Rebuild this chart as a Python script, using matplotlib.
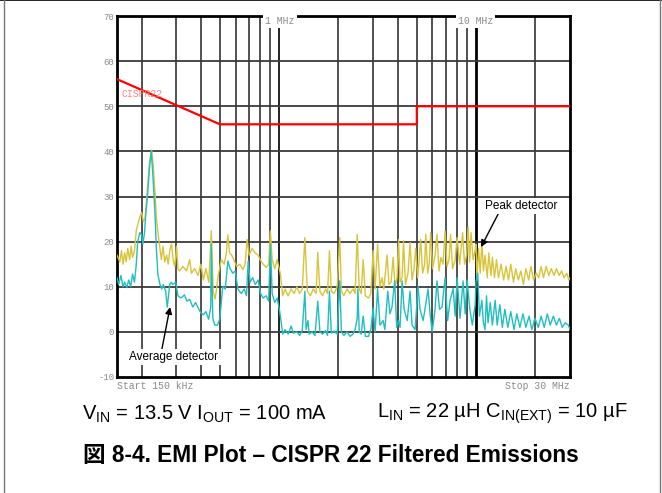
import matplotlib
matplotlib.use('Agg')
import matplotlib.pyplot as plt
from matplotlib.lines import Line2D
from matplotlib.transforms import blended_transform_factory

plt.rcParams['mathtext.fontset'] = 'custom'
plt.rcParams['mathtext.rm'] = 'Liberation Sans'

# CISPR 22 class B average limit
limit_freq = [0.15, 0.5, 5.0, 5.0, 30.0]
limit_db = [56, 46, 46, 50, 50]

# peak detector trace (MHz, dBuV)
peak_freq = [0.150, 0.155, 0.158, 0.161, 0.164, 0.167, 0.170, 0.174, 0.177, 0.180,
             0.184, 0.188, 0.192, 0.196, 0.200, 0.204, 0.208, 0.212, 0.216, 0.220,
             0.225, 0.229, 0.234, 0.238, 0.243, 0.248, 0.252, 0.257, 0.262, 0.268,
             0.273, 0.278, 0.284, 0.289, 0.295, 0.301, 0.306, 0.312, 0.324, 0.338,
             0.351, 0.358, 0.372, 0.387, 0.400, 0.412, 0.424, 0.439, 0.452, 0.462,
             0.473, 0.490, 0.508, 0.526, 0.539, 0.548, 0.560, 0.574, 0.587, 0.609,
             0.631, 0.654, 0.671, 0.687, 0.704, 0.729, 0.755, 0.782, 0.800, 0.829,
             0.859, 0.885, 0.902, 0.921, 0.949, 0.977, 1.012, 1.024, 1.042,
             1.07, 1.11, 1.15, 1.19, 1.23, 1.27, 1.31, 1.35, 1.39, 1.44, 1.49, 1.54,
             1.57, 1.61, 1.66, 1.72, 1.76, 1.80, 1.84, 1.90, 1.97, 2.03, 2.07, 2.13,
             2.21, 2.29, 2.37, 2.43, 2.49, 2.55, 2.61, 2.67, 2.74, 2.84, 2.92, 3.00,
             3.07, 3.16, 3.25, 3.33, 3.40, 3.53, 3.61, 3.70, 3.79, 3.88, 3.97, 4.04,
             4.11, 4.21, 4.28, 4.38, 4.51, 4.62, 4.73, 4.84, 4.93, 5.05, 5.14, 5.23,
             5.35, 5.48, 5.55, 5.68, 5.78, 5.88, 6.01, 6.19, 6.33, 6.48, 6.63, 6.79,
             6.96, 7.12, 7.29, 7.42, 7.60, 7.83, 8.01, 8.25, 8.54, 8.74, 8.95, 9.11,
             9.27, 9.43, 9.66, 9.89, 10.0, 10.1, 10.3, 10.5, 10.7, 10.9, 11.1, 11.4,
             11.6, 11.9, 12.1, 12.4, 12.7, 13.0, 13.4, 13.8, 14.2, 14.6, 15.0, 15.5,
             15.9, 16.4, 16.9, 17.4, 17.9, 18.5, 19.0, 19.6, 20.2, 20.8, 21.4, 22.0,
             22.7, 23.4, 24.1, 24.9, 25.6, 26.4, 27.2, 28.0, 28.9, 29.6, 30.0]
peak_db = [17, 15.5, 18, 15, 17.5, 15.5, 18.5, 16, 19, 16.5,
           18, 22.5, 24, 25.5, 26.5, 24.5, 25, 29, 34, 38,
           40.3, 37, 31, 25, 21.5, 18.5, 16, 19, 15.5, 17,
           15, 18, 19.5, 16, 14.5, 19, 14, 13.5, 14.5, 13.5,
           16, 13, 14, 12.5, 15, 11.5, 14, 11, 22.4, 9,
           7.3, 12.5, 16, 15, 17.5, 21.5, 17.5, 17, 16, 14.5,
           15, 13.8, 15, 20.5, 17, 18.5, 17.5, 17, 16, 15,
           14.3, 15, 22.4, 16, 14, 16, 13, 11, 8,
           9.5, 8, 9.5, 8.5, 10, 8.5, 9.5, 20.9, 9, 8, 9.5, 8.5,
           17.6, 9, 8, 9.5, 8.5, 18, 9, 8.5, 10, 20.9, 9, 8,
           9.5, 8.5, 9.5, 8.5, 21.6, 9.5, 8.5, 16, 8, 7.5, 8.5, 18,
           9.5, 19.4, 10, 12, 9.5, 17, 10.5, 11, 16.5, 10, 12, 20.5,
           11, 12, 20.2, 10.5, 13, 19.8, 11.5, 14, 18.5, 12, 16, 20.5,
           13, 15, 21.6, 13, 15, 22, 14, 17, 21.6, 13.5, 16.5, 15,
           22.4, 14.5, 16, 21.6, 14, 16, 20.9, 15, 22, 15, 17, 23.2,
           15.5, 22, 16, 18, 19.5, 11.5, 18.5, 13, 20, 13.5, 17, 12,
           17.5, 12.5, 16.5, 12, 16, 12, 15, 11.5, 14.5, 11.5, 15, 11,
           14, 11.5, 13.5, 10.5, 14, 11.5, 14.5, 11.5, 13, 12, 14.5, 12,
           14.5, 12.5, 14, 12.5, 14, 12.5, 13.5, 12, 13, 11.5, 12]

# average detector trace (MHz, dBuV)
avg_freq = [0.150, 0.153, 0.157, 0.161, 0.164, 0.168, 0.172, 0.176, 0.180, 0.184,
            0.188, 0.191, 0.196, 0.200, 0.203, 0.207, 0.210, 0.215, 0.220, 0.224,
            0.228, 0.234, 0.238, 0.242, 0.248, 0.253, 0.258, 0.265, 0.270, 0.278,
            0.283, 0.288, 0.298, 0.306, 0.317, 0.330, 0.340, 0.351, 0.364, 0.376,
            0.391, 0.400, 0.412, 0.424, 0.438, 0.449, 0.452, 0.460, 0.471, 0.486,
            0.500, 0.516, 0.532, 0.549, 0.563, 0.581, 0.598, 0.617, 0.641, 0.664,
            0.682, 0.696, 0.711, 0.733, 0.756, 0.782, 0.804, 0.828, 0.858, 0.884,
            0.902, 0.921, 0.949, 0.977, 1.006, 1.024, 1.042,
            1.07, 1.11, 1.15, 1.18, 1.23, 1.27, 1.31, 1.35, 1.37, 1.40, 1.42, 1.47,
            1.52, 1.57, 1.61, 1.66, 1.72, 1.76, 1.80, 1.84, 1.90, 1.97, 2.03, 2.07,
            2.13, 2.21, 2.29, 2.37, 2.43, 2.49, 2.51, 2.55, 2.61, 2.67, 2.74, 2.84,
            2.92, 3.00, 3.07, 3.16, 3.25, 3.37, 3.44, 3.56, 3.65, 3.74, 3.86, 3.95,
            4.04, 4.11, 4.21, 4.31, 4.47, 4.62, 4.73, 4.90, 5.07, 5.19, 5.38, 5.50,
            5.70, 5.84, 5.98, 6.19, 6.33, 6.52, 6.72, 6.96, 7.17, 7.38, 7.65, 7.83,
            8.01, 8.29, 8.59, 8.80, 9.00, 9.30, 9.57, 9.89, 10.0, 10.2, 10.4, 10.7,
            10.9, 11.1, 11.3, 11.5, 11.8, 12.1, 12.5, 12.8, 13.2, 13.6, 14.0, 14.5,
            15.0, 15.6, 16.1, 16.7, 17.3, 17.9, 18.6, 19.2, 19.9, 20.7, 21.4, 22.2,
            23.0, 23.8, 24.7, 25.6, 26.5, 27.4, 28.4, 29.4, 30.0]
avg_db = [12, 10.5, 12.5, 10, 11, 9.8, 11.5, 10, 12.8, 11,
          15, 20, 22, 21.5, 19.5, 22, 26, 31, 37, 40,
          35, 26, 18, 12.7, 10.5, 9.5, 10.5, 9, 5.5, 10.5,
          11, 10.5, 11, 8, 7.5, 8.2, 6.8, 7.2, 5.5, 6.5,
          5, 4.2, 3.8, 4.5, 2.8, 5.5, 19.5, 3, 1.5, 1.5,
          3, 10, 9.5, 15.7, 14, 13, 13.5, 9.5, 8.5, 9.5,
          8, 15.7, 11, 12, 10.5, 11.5, 8.5, 7.5, 8, 6.8,
          19.4, 8.5, 6.5, 7.5, 4.5, 2, -0.5,
          0.5, -0.5, 1.3, -0.3, 0, -0.8, 0.3, 9, 0.5, 2.5, -0.5, 0,
          -0.8, 6.8, 0, -0.5, 0.3, -0.8, 9, -0.3, 0.2, -0.5, 11.3, 0,
          -0.8, 0, -1, -0.5, 0.5, 3, 9.5, 0, -0.5, 3.5, -1, -1,
          0.5, 5.3, 0, 9.6, 1.5, 2.5, 0.5, 9, 4, 5.5, 11.3, 1,
          2.5, 1, 11.3, 5, 2.5, 9, 1.5, 0.5, 10, 5, 2.5, 5,
          9.5, 4, 0, 5, 11.3, 5, 5.5, 12, 2.5, 7, 9.6, 3.5,
          12, 3, 11.3, 4, 11.5, 5, 1.5, 6, 11.3, 13, 3.5, 7,
          2, 0.5, 8, 2, 6.5, 1.5, 7, 1.5, 6, 1, 5, 1,
          4.5, 0.5, 4, 1, 4, 1, 3.5, 0.5, 3, 1, 3.5, 1,
          4, 1.5, 3.5, 1.5, 3, 1, 2, 1.5, 0.5]

y_ticks = [-10, 0, 10, 20, 30, 40, 50, 60, 70]
minor_freqs = [0.2, 0.3, 0.4, 0.5, 0.6, 0.7, 0.8, 0.9, 2, 3, 4, 5, 6, 7, 8, 9, 20]

mono = 'Liberation Mono'
gray_txt = '#8a8a8a'
yellow = '#d8c43a'
cyan = '#20bec0'

fig = plt.figure(figsize=(6.62, 4.93), dpi=100)
ax = fig.add_axes([117 / 662, 1 - 377 / 493, 453 / 662, 361 / 493])

ax.set_xscale('log')
ax.set_xlim(0.15, 30)
ax.set_ylim(-10, 70)

# grid
for f in minor_freqs:
    ax.axvline(f, color='#222222', lw=1.1, zorder=1)
ax.axvline(1, color='#111111', lw=1.3, zorder=1)
ax.axvline(10, color='black', lw=2.0, zorder=1)
for y in y_ticks[1:-1]:
    ax.axhline(y, color='#3a3a3a', lw=1.3, zorder=1)

ax.plot(limit_freq, limit_db, color='#ff0000', lw=1.6, zorder=3)
ax.plot(peak_freq, peak_db, color=yellow, lw=1.0, zorder=4)
ax.plot(avg_freq, avg_db, color=cyan, lw=1.0, zorder=5)

ax.set_xticks([])
ax.set_xticks([], minor=True)
ax.set_yticks(y_ticks)
ax.set_yticklabels([str(v) for v in y_ticks], fontfamily=mono, fontsize=6.5, color=gray_txt)
ax.tick_params(axis='y', length=0, pad=2)
for s in ax.spines.values():
    s.set_linewidth(2.0)
    s.set_color('black')

tr = blended_transform_factory(ax.transData, ax.transAxes)
ax.text(0.85, 0.985, '1 MHz', transform=tr, fontfamily=mono, fontsize=7, color=gray_txt,
        ha='left', va='center', zorder=6,
        bbox=dict(facecolor='white', edgecolor='none', pad=1.5))
ax.text(8.1, 0.985, '10 MHz', transform=tr, fontfamily=mono, fontsize=7, color=gray_txt,
        ha='left', va='center', zorder=6,
        bbox=dict(facecolor='white', edgecolor='none', pad=1.5))
ax.text(0.158, 52.7, 'CISPR22', fontfamily=mono, fontsize=7, color='#ff8080',
        ha='left', va='center', zorder=6)
ax.text(0.0, -0.012, 'Start 150 kHz', transform=ax.transAxes, fontfamily=mono,
        fontsize=7, color=gray_txt, ha='left', va='top')
ax.text(1.0, -0.012, 'Stop 30 MHz', transform=ax.transAxes, fontfamily=mono,
        fontsize=7, color=gray_txt, ha='right', va='top')

# detector callouts
ax.annotate('Peak detector', xy=(10.6, 18.8), xytext=(16.9, 27.9),
            fontfamily='Liberation Sans', fontsize=8.5, ha='center', va='center', zorder=7,
            bbox=dict(facecolor='white', edgecolor='none', pad=1.5),
            arrowprops=dict(arrowstyle='-|>', color='black', lw=1.0, mutation_scale=10,
                            relpos=(0.2, 0.0), shrinkA=0, shrinkB=0))
ax.annotate('Average detector', xy=(0.279, 5.5), xytext=(0.292, -5.6),
            fontfamily='Liberation Sans', fontsize=8.5, ha='center', va='center', zorder=7,
            bbox=dict(facecolor='white', edgecolor='none', pad=1.5),
            arrowprops=dict(arrowstyle='-|>', color='black', lw=1.0, mutation_scale=10,
                            relpos=(0.36, 1.0), shrinkA=0, shrinkB=0))

# captions
fig.text(82 / 662, 1 - 414 / 493,
         r'V$_{\mathregular{IN}}$ = 13.5 V I$_{\mathregular{OUT}}$ = 100 mA',
         fontfamily='Liberation Sans', fontsize=14.5, ha='left', va='center')
fig.text(628 / 662, 1 - 414 / 493,
         r'L$_{\mathregular{IN}}$ = 22 µH C$_{\mathregular{IN(EXT)}}$ = 10 µF',
         fontfamily='Liberation Sans', fontsize=14.5, ha='right', va='center')
fig.text(83 / 662, 1 - 456 / 493, '図 8-4. EMI Plot – CISPR 22 Filtered Emissions',
         fontfamily=['Liberation Sans', 'Noto Sans CJK JP'], fontsize=16.3,
         fontweight='bold', ha='left', va='center')

# outer frame
fig.add_artist(Line2D([0, 1], [0.999, 0.999], transform=fig.transFigure, color='black', lw=1.2))
fig.add_artist(Line2D([3.5 / 662, 3.5 / 662], [0, 1], transform=fig.transFigure, color='#777777', lw=1.0))
fig.add_artist(Line2D([659.5 / 662, 659.5 / 662], [0, 1], transform=fig.transFigure, color='#777777', lw=1.0))

fig.savefig('out.png', dpi=100)
